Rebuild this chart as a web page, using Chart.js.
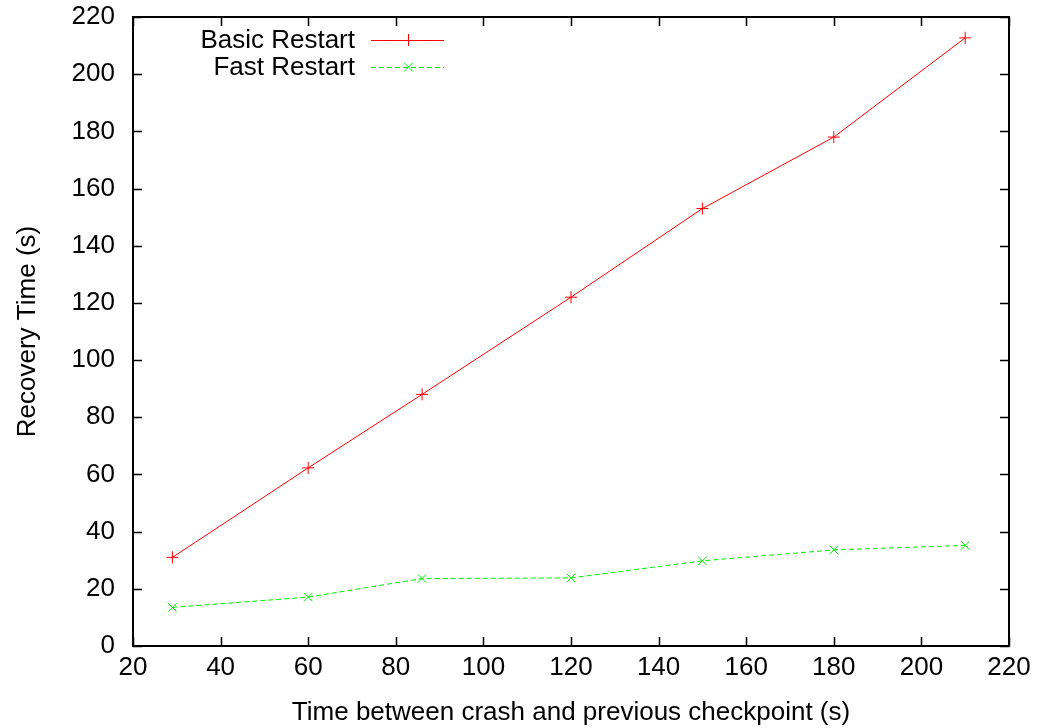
<!DOCTYPE html>
<html>
<head>
<meta charset="utf-8">
<script src="https://cdn.jsdelivr.net/npm/chart.js@4.4.1/dist/chart.umd.min.js"></script>
<style>
  html, body { margin: 0; padding: 0; background: #fff; }
  #wrap { width: 1045px; height: 728px; }
</style>
</head>
<body>
<div id="wrap"><canvas id="recoveryChart" width="1045" height="728"></canvas></div>
<script>
// values
const checkpointGap = [29, 60, 86, 120, 150, 180, 210];
const basicRestart = [31, 62.3, 88, 122, 153, 178, 212.7];
const fastRestart = [13.5, 17.1, 23.6, 23.8, 29.8, 33.6, 35.2];
const xTicks = [20, 40, 60, 80, 100, 120, 140, 160, 180, 200, 220];
const yTicks = [0, 20, 40, 60, 80, 100, 120, 140, 160, 180, 200, 220];

const FONT = 'Liberation Sans, Arial, Helvetica, sans-serif';
const FS = 26;

// gnuplot style frame: box all round, ticks pointing inward on every side
const framePlugin = {
  id: 'frame',
  afterDraw(chart) {
    const { ctx, chartArea: a, scales } = chart;
    const len = 9;
    ctx.save();
    ctx.strokeStyle = '#000';
    ctx.lineWidth = 1.5;
    ctx.beginPath();
    xTicks.forEach(v => {
      const px = Math.round(scales.x.getPixelForValue(v)) + 0.5;
      ctx.moveTo(px, a.bottom); ctx.lineTo(px, a.bottom - len);
      ctx.moveTo(px, a.top); ctx.lineTo(px, a.top + len);
    });
    yTicks.forEach(v => {
      const py = Math.round(scales.y.getPixelForValue(v)) + 0.5;
      ctx.moveTo(a.left, py); ctx.lineTo(a.left + len, py);
      ctx.moveTo(a.right, py); ctx.lineTo(a.right - len, py);
    });
    ctx.stroke();
    ctx.lineWidth = 2;
    ctx.strokeRect(a.left, a.top, a.right - a.left, a.bottom - a.top);
    ctx.restore();
  }
};

// legend sits inside the plot, text right aligned, sample line to its right
const keyPlugin = {
  id: 'key',
  afterDraw(chart) {
    const { ctx } = chart;
    const textRight = 355, lineL = 371, lineR = 444;
    ctx.save();
    ctx.font = FS + 'px ' + FONT;
    ctx.textAlign = 'right';
    ctx.textBaseline = 'middle';
    chart.data.datasets.forEach((ds, i) => {
      const y = 40 + i * 27;
      ctx.fillStyle = '#000';
      ctx.fillText(ds.label, textRight, y + 1);
      ctx.strokeStyle = ds.borderColor;
      ctx.lineWidth = 1;
      ctx.setLineDash(ds.borderDash || []);
      ctx.beginPath();
      ctx.moveTo(lineL, y + 0.5); ctx.lineTo(lineR, y + 0.5);
      ctx.stroke();
      ctx.setLineDash([]);
      const mx = Math.round((lineL + lineR) / 2) + 0.5;
      const r = ds.pointRadius;
      ctx.beginPath();
      if (ds.pointStyle === 'cross') {
        ctx.moveTo(mx - r, y + 0.5); ctx.lineTo(mx + r, y + 0.5);
        ctx.moveTo(mx, y - r); ctx.lineTo(mx, y + r);
      } else {
        const d = r * 0.75;
        ctx.moveTo(mx - d, y - d); ctx.lineTo(mx + d, y + d);
        ctx.moveTo(mx - d, y + d); ctx.lineTo(mx + d, y - d);
      }
      ctx.stroke();
    });
    ctx.restore();
  }
};

new Chart(document.getElementById('recoveryChart'), {
  type: 'line',
  data: {
    labels: checkpointGap,
    datasets: [
      {
        label: 'Basic Restart',
        data: checkpointGap.map((x, i) => ({ x, y: basicRestart[i] })),
        borderColor: '#ff0000',
        borderWidth: 1,
        pointStyle: 'cross',
        pointRadius: 6,
        pointBorderColor: '#ff0000',
        pointBorderWidth: 1,
        fill: false,
        tension: 0
      },
      {
        label: 'Fast Restart',
        data: checkpointGap.map((x, i) => ({ x, y: fastRestart[i] })),
        borderColor: '#00ee00',
        borderWidth: 1,
        borderDash: [5, 3],
        pointStyle: 'crossRot',
        pointRadius: 6,
        pointBorderColor: '#00ee00',
        pointBorderWidth: 1,
        fill: false,
        tension: 0
      }
    ]
  },
  options: {
    responsive: false,
    animation: false,
    layout: { padding: { top: 17, right: 36, left: 0, bottom: 0 } },
    plugins: {
      legend: { display: false },
      tooltip: { enabled: false }
    },
    scales: {
      x: {
        type: 'linear',
        min: 20,
        max: 220,
        afterBuildTicks: s => { s.ticks = xTicks.map(v => ({ value: v })); },
        afterFit: s => { s.height = 82; s.paddingLeft = 0; s.paddingRight = 0; },
        grid: { display: false, drawTicks: false },
        border: { display: false },
        ticks: { color: '#000', font: { family: FONT, size: FS }, padding: 6, maxRotation: 0 },
        title: {
          display: true,
          text: 'Time between crash and previous checkpoint (s)',
          color: '#000',
          font: { family: FONT, size: FS },
          padding: { top: 0, bottom: 0 }
        }
      },
      y: {
        type: 'linear',
        min: 0,
        max: 220,
        afterBuildTicks: s => { s.ticks = yTicks.map(v => ({ value: v })); },
        afterFit: s => { s.width = 133; s.paddingTop = 0; s.paddingBottom = 0; },
        grid: { display: false, drawTicks: false },
        border: { display: false },
        ticks: { color: '#000', font: { family: FONT, size: FS }, padding: 18 },
        title: {
          display: true,
          text: 'Recovery Time (s)',
          color: '#000',
          font: { family: FONT, size: FS },
          padding: { top: 12, bottom: 0 }
        }
      }
    }
  },
  plugins: [framePlugin, keyPlugin]
});
</script>
</body>
</html>
